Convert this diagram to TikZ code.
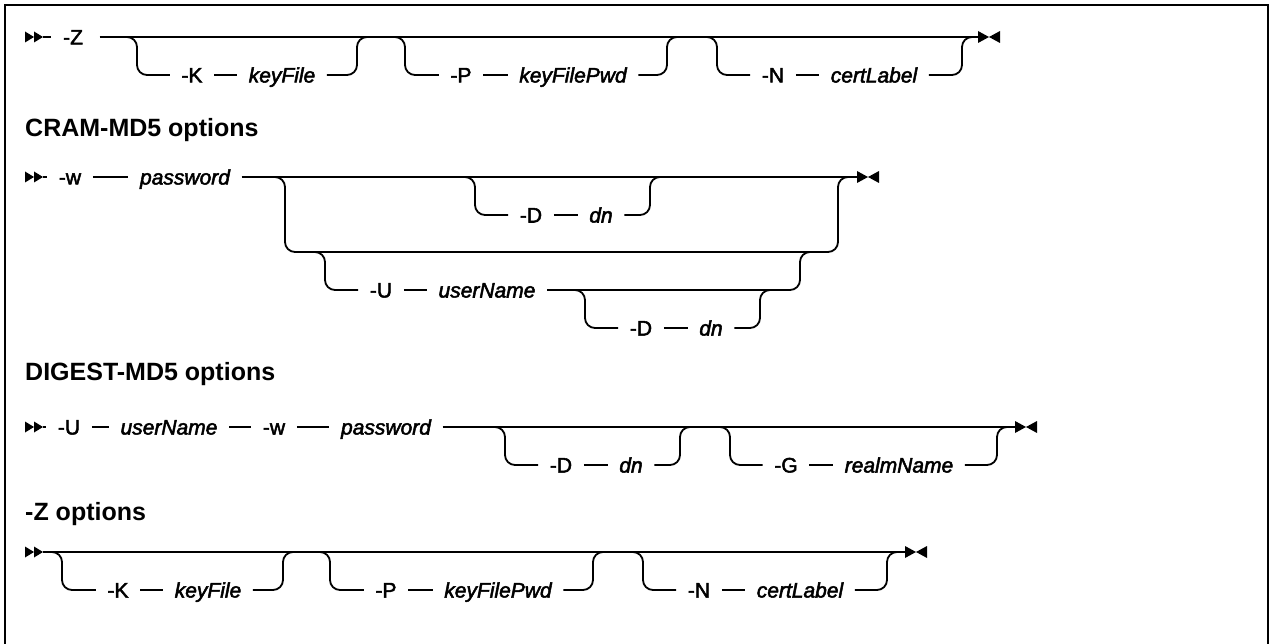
\documentclass[tikz,border=0pt]{standalone}
\usepackage{fontspec}
\setmainfont{Liberation Sans}
\newcommand\heavyon{\special{pdf:literal direct 2 Tr 0.5 w}}
\newcommand\heavyoff{\special{pdf:literal direct 0 Tr}}
\tikzset{
  ln/.style={line width=1.8pt},
  rr/.style={line width=1.8pt, rounded corners=10pt},
  frame/.style={line width=2pt},
  kw/.style={inner xsep=11.5pt, inner ysep=0pt, text height=15pt, text depth=0pt, font=\fontsize{21}{25}\selectfont,
    execute at begin node=\heavyon, execute at end node=\heavyoff},
  var/.style={kw, font=\fontsize{21}{25}\selectfont\itshape},
  title/.style={inner sep=0pt, anchor=base west, font=\fontsize{25}{30}\selectfont\bfseries},
  startmark/.pic={\fill (0,-5.5) -- (9,0) -- (0,5.5) -- cycle; \fill (9,-5.5) -- (18,0) -- (9,5.5) -- cycle;},
  endmark/.pic={\fill (0,-6) -- (11,0) -- (0,6) -- cycle; \fill (22,-6) -- (11,0) -- (22,6) -- cycle;}
}
\begin{document}
\begin{tikzpicture}[x=1pt,y=-1pt]
\useasboundingbox (0,0) rectangle (1273,644);
\draw[frame] (5,644) -- (5,5) -- (1268,5) -- (1268,644);

% ---------- Row 1 ----------
\coordinate (s1) at (25,37);
\coordinate (s1e) at (43,37);
\coordinate (e1) at (978,37);
\pic at (s1) {startmark};
\pic at (e1) {endmark};
\node[kw] (z1) at (73,37) {-Z};
\draw[ln] (s1e) -- (z1.west);
\draw[ln, shorten <=5pt] (z1.east) -- (e1);
% K
\coordinate (d1k) at (137,37); \coordinate (u1k) at (357,37);
\node[kw] (k1) at (192,75) {-K};
\node[var] (kf1) at (282,75) {keyFile};
\draw[rr] ([xshift=-15pt]d1k) -- (d1k) -- (d1k |- k1) -- (k1.west);
\draw[ln] (k1) -- (kf1);
\draw[rr] (kf1.east) -- (u1k |- kf1) -- (u1k) -- ([xshift=15pt]u1k);
% P
\coordinate (d1p) at (405,37); \coordinate (u1p) at (667,37);
\node[kw] (p1) at (461,75) {-P};
\node[var] (kp1) at (573,75) {keyFilePwd};
\draw[rr] ([xshift=-15pt]d1p) -- (d1p) -- (d1p |- p1) -- (p1.west);
\draw[ln] (p1) -- (kp1);
\draw[rr] (kp1.east) -- (u1p |- kp1) -- (u1p) -- ([xshift=15pt]u1p);
% N
\coordinate (d1n) at (717,37); \coordinate (u1n) at (962,37);
\node[kw] (n1) at (773,75) {-N};
\node[var] (cl1) at (874,75) {certLabel};
\draw[rr] ([xshift=-15pt]d1n) -- (d1n) -- (d1n |- n1) -- (n1.west);
\draw[ln] (n1) -- (cl1);
\draw[rr] (cl1.east) -- (u1n |- cl1) -- (u1n) -- ([xshift=14pt]u1n);

% ---------- CRAM-MD5 ----------
\node[title] (t2) at (25,137) {CRAM-MD5 options};
\coordinate (s2) at (25,177);
\coordinate (s2e) at (43,177);
\coordinate (e2) at (857,177);
\pic at (s2) {startmark};
\pic at (e2) {endmark};
\node[kw] (w2) at (70,177) {-w};
\node[var] (pw2) at (185,177) {password};
\draw[ln] (s2e) -- (w2.west);
\draw[ln] (w2) -- (pw2);
\draw[ln] (pw2.east) -- (e2);
% outer choice
\coordinate (ca) at (285,177); \coordinate (cb) at (285,252);
\coordinate (cc) at (838,252); \coordinate (cd) at (838,177);
\draw[rr] ([xshift=-15pt]ca) -- (ca) -- (cb) -- (cc) -- (cd) -- ([xshift=12pt]cd);
% inner -D dn
\coordinate (d2d) at (475,177); \coordinate (u2d) at (650,177);
\node[kw] (dd2) at (531,215) {-D};
\node[var] (dn2) at (601,215) {dn};
\draw[rr] ([xshift=-15pt]d2d) -- (d2d) -- (d2d |- dd2) -- (dd2.west);
\draw[ln] (dd2) -- (dn2);
\draw[rr] (dn2.east) -- (u2d |- dn2) -- (u2d) -- ([xshift=15pt]u2d);
% -U userName
\coordinate (d2u) at (325,252); \coordinate (u2u) at (800,252);
\node[kw] (uu2) at (381,290) {-U};
\node[var] (un2) at (487,290) {userName};
\draw[rr] ([xshift=-15pt]d2u) -- (d2u) -- (d2u |- uu2) -- (uu2.west);
\draw[ln] (uu2) -- (un2);
\draw[rr] (un2.east) -- (u2u |- un2) -- (u2u) -- ([xshift=15pt]u2u);
% nested -D dn
\coordinate (d2e) at (585,290); \coordinate (u2e) at (760,290);
\node[kw] (de2) at (641,328) {-D};
\node[var] (dm2) at (711,328) {dn};
\draw[rr] ([xshift=-15pt]d2e) -- (d2e) -- (d2e |- de2) -- (de2.west);
\draw[ln] (de2) -- (dm2);
\draw[rr] (dm2.east) -- (u2e |- dm2) -- (u2e) -- ([xshift=15pt]u2e);

% ---------- DIGEST-MD5 ----------
\node[title] (t3) at (25,380) {DIGEST-MD5 options};
\coordinate (s3) at (25,427);
\coordinate (s3e) at (43,427);
\coordinate (e3) at (1015,427);
\pic at (s3) {startmark};
\pic at (e3) {endmark};
\node[kw] (uu3) at (69,427) {-U};
\node[var] (un3) at (169,427) {userName};
\node[kw] (w3) at (274,427) {-w};
\node[var] (pw3) at (386,427) {password};
\draw[ln] (s3e) -- (uu3.west);
\draw[ln] (uu3) -- (un3);
\draw[ln] (un3) -- (w3);
\draw[ln] (w3) -- (pw3);
\draw[ln] (pw3.east) -- (e3);
% -D dn
\coordinate (d3d) at (505,427); \coordinate (u3d) at (680,427);
\node[kw] (dd3) at (561,465) {-D};
\node[var] (dn3) at (631,465) {dn};
\draw[rr] ([xshift=-15pt]d3d) -- (d3d) -- (d3d |- dd3) -- (dd3.west);
\draw[ln] (dd3) -- (dn3);
\draw[rr] (dn3.east) -- (u3d |- dn3) -- (u3d) -- ([xshift=15pt]u3d);
% -G realmName
\coordinate (d3g) at (730,427); \coordinate (u3g) at (997,427);
\node[kw] (gg3) at (786,465) {-G};
\node[var] (rn3) at (899,465) {realmName};
\draw[rr] ([xshift=-15pt]d3g) -- (d3g) -- (d3g |- gg3) -- (gg3.west);
\draw[ln] (gg3) -- (rn3);
\draw[rr] (rn3.east) -- (u3g |- rn3) -- (u3g) -- ([xshift=14pt]u3g);

% ---------- -Z options ----------
\node[title] (t4) at (25,520) {-Z options};
\coordinate (s4) at (25,552);
\coordinate (s4e) at (43,552);
\coordinate (e4) at (905,552);
\pic at (s4) {startmark};
\pic at (e4) {endmark};
\draw[ln] (s4e) -- (e4);
% K
\coordinate (d4k) at (62,552); \coordinate (u4k) at (283,552);
\node[kw] (k4) at (118,590) {-K};
\node[var] (kf4) at (208,590) {keyFile};
\draw[rr] ([xshift=-12pt]d4k) -- (d4k) -- (d4k |- k4) -- (k4.west);
\draw[ln] (k4) -- (kf4);
\draw[rr] (kf4.east) -- (u4k |- kf4) -- (u4k) -- ([xshift=15pt]u4k);
% P
\coordinate (d4p) at (330,552); \coordinate (u4p) at (593,552);
\node[kw] (p4) at (386,590) {-P};
\node[var] (kp4) at (498,590) {keyFilePwd};
\draw[rr] ([xshift=-15pt]d4p) -- (d4p) -- (d4p |- p4) -- (p4.west);
\draw[ln] (p4) -- (kp4);
\draw[rr] (kp4.east) -- (u4p |- kp4) -- (u4p) -- ([xshift=15pt]u4p);
% N
\coordinate (d4n) at (643,552); \coordinate (u4n) at (887,552);
\node[kw] (n4) at (699,590) {-N};
\node[var] (cl4) at (800,590) {certLabel};
\draw[rr] ([xshift=-15pt]d4n) -- (d4n) -- (d4n |- n4) -- (n4.west);
\draw[ln] (n4) -- (cl4);
\draw[rr] (cl4.east) -- (u4n |- cl4) -- (u4n) -- ([xshift=14pt]u4n);
\end{tikzpicture}
\end{document}
